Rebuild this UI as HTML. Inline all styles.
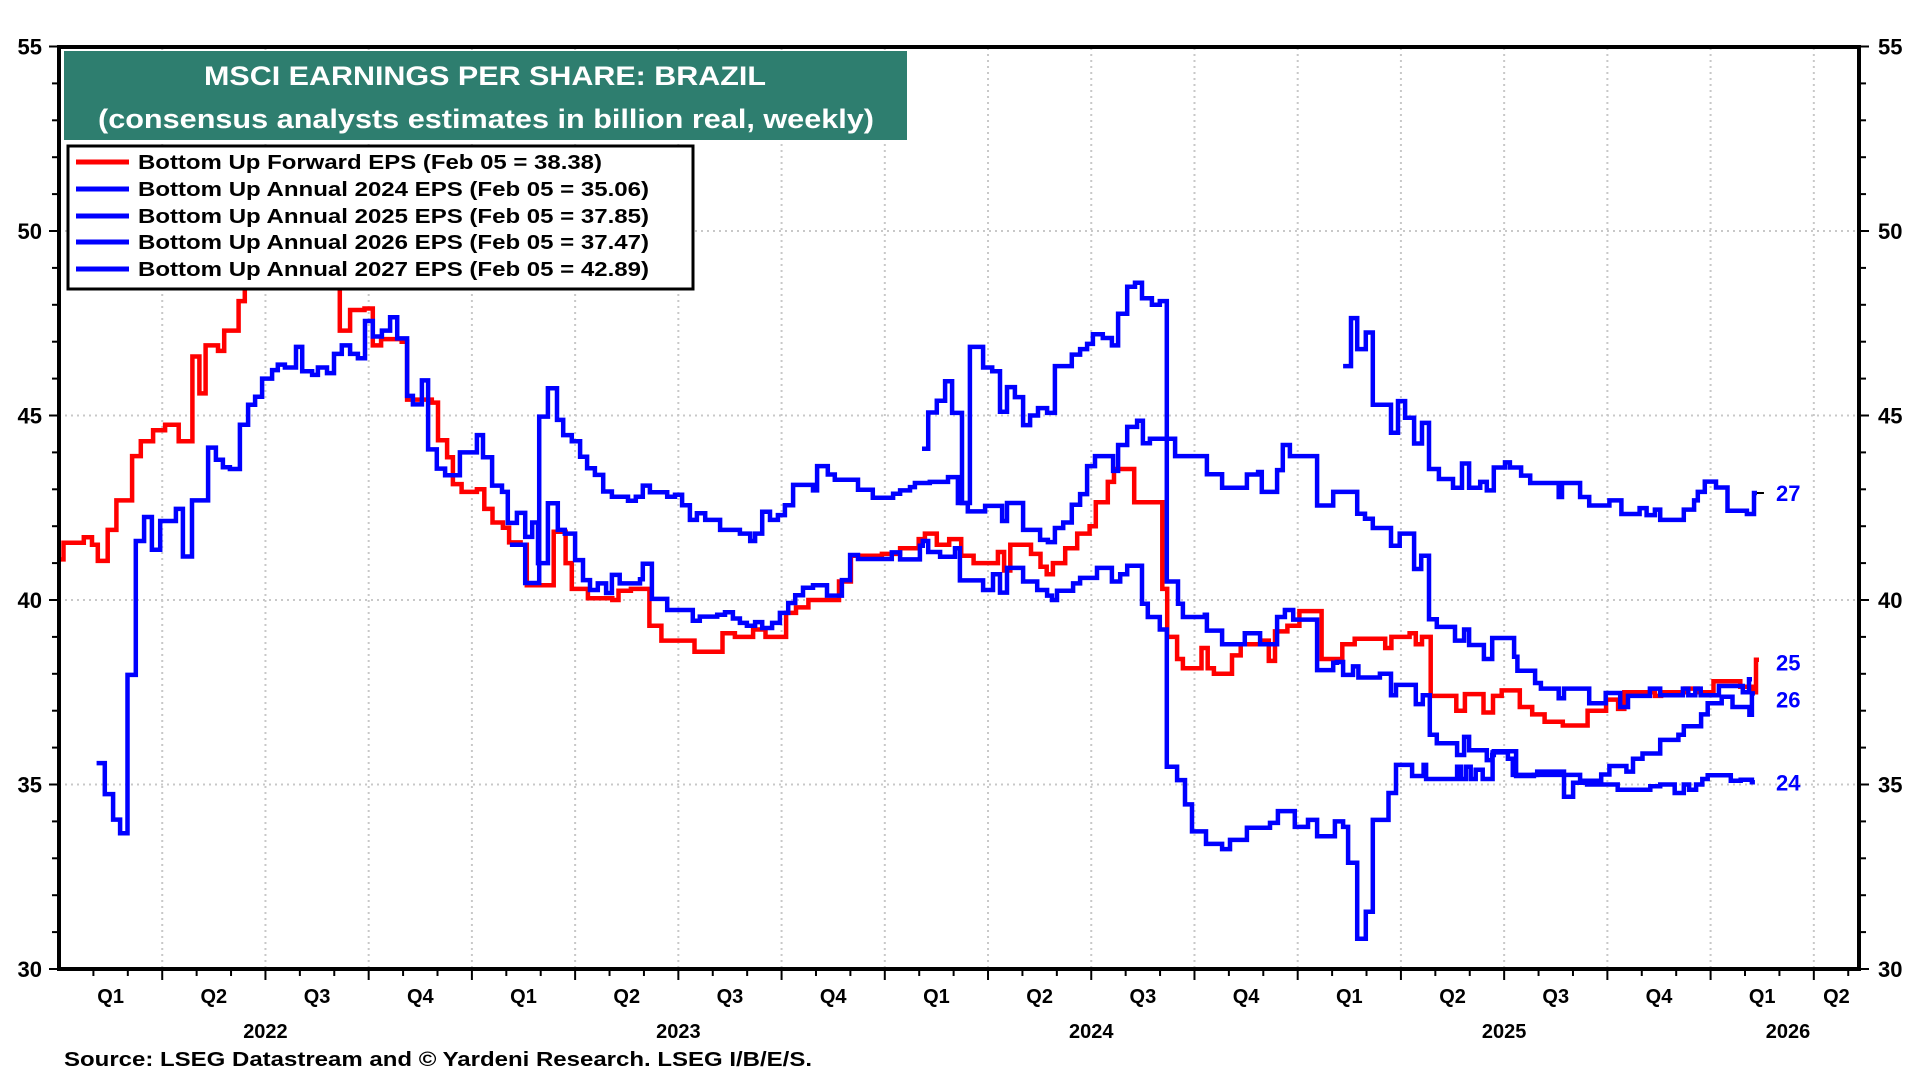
<!DOCTYPE html>
<html><head><meta charset="utf-8"><title>MSCI EPS Brazil</title>
<style>
html,body{margin:0;padding:0;background:#fff;}
svg{display:block;font-family:"Liberation Sans",Arial,sans-serif;}
</style></head>
<body>
<svg id="chart" width="1920" height="1080" viewBox="0 0 1920 1080" xmlns="http://www.w3.org/2000/svg">
<defs><clipPath id="plotclip"><rect x="59" y="46" width="1800" height="923"/></clipPath></defs>
<g id="grid"></g>
<g id="series" clip-path="url(#plotclip)"></g>
<g id="axes"></g>
<g>
  <rect x="64" y="51" width="843" height="89" fill="#2E7E6F"/>
  <text x="485" y="85" text-anchor="middle" fill="#fff" font-weight="bold" font-size="27" textLength="562" lengthAdjust="spacingAndGlyphs">MSCI EARNINGS PER SHARE: BRAZIL</text>
  <text x="486" y="128" text-anchor="middle" fill="#fff" font-weight="bold" font-size="27" textLength="776" lengthAdjust="spacingAndGlyphs">(consensus analysts estimates in billion real, weekly)</text>
</g>
<g>
  <rect x="68" y="146" width="625" height="143" fill="#fff" stroke="#000" stroke-width="3"/>
  <g><line x1="76" x2="129" y1="162" y2="162" stroke="#ff0000" stroke-width="5"/><text x="138" y="169" font-weight="bold" font-size="20" textLength="464" lengthAdjust="spacingAndGlyphs">Bottom Up Forward EPS (Feb 05 = 38.38)</text></g>
  <g><line x1="76" x2="129" y1="189" y2="189" stroke="#0000ff" stroke-width="5"/><text x="138" y="196" font-weight="bold" font-size="20" textLength="511" lengthAdjust="spacingAndGlyphs">Bottom Up Annual 2024 EPS (Feb 05 = 35.06)</text></g>
  <g><line x1="76" x2="129" y1="216" y2="216" stroke="#0000ff" stroke-width="5"/><text x="138" y="223" font-weight="bold" font-size="20" textLength="511" lengthAdjust="spacingAndGlyphs">Bottom Up Annual 2025 EPS (Feb 05 = 37.85)</text></g>
  <g><line x1="76" x2="129" y1="242" y2="242" stroke="#0000ff" stroke-width="5"/><text x="138" y="249" font-weight="bold" font-size="20" textLength="511" lengthAdjust="spacingAndGlyphs">Bottom Up Annual 2026 EPS (Feb 05 = 37.47)</text></g>
  <g><line x1="76" x2="129" y1="269" y2="269" stroke="#0000ff" stroke-width="5"/><text x="138" y="276" font-weight="bold" font-size="20" textLength="511" lengthAdjust="spacingAndGlyphs">Bottom Up Annual 2027 EPS (Feb 05 = 42.89)</text></g>
</g>
<g id="endlabels"></g>
<text x="64" y="1066" font-weight="bold" font-size="20" textLength="748" lengthAdjust="spacingAndGlyphs">Source: LSEG Datastream and © Yardeni Research. LSEG I/B/E/S.</text>
</svg>
<script>
const NS = "http://www.w3.org/2000/svg";
const yTicks = [30, 35, 40, 45, 50, 55];
const gridValues = [35, 40, 45, 50];
const quarterLabels = ["Q1","Q2","Q3","Q4","Q1","Q2","Q3","Q4","Q1","Q2","Q3","Q4","Q1","Q2","Q3","Q4","Q1","Q2"];
const yearLabels = ["2022","2023","2024","2025","2026"];

const redDates = [2022.000,2022.011,2022.060,2022.080,2022.094,2022.118,2022.139,2022.177,2022.198,2022.228,2022.257,2022.290,2022.323,2022.340,2022.355,2022.385,2022.400,2022.435,2022.450,2022.465,2022.550,2022.640,2022.680,2022.705,2022.740,2022.760,2022.780,2022.830,2022.843,2022.903,2022.918,2022.940,2022.954,2022.975,2023.012,2023.030,2023.050,2023.075,2023.090,2023.118,2023.133,2023.198,2023.227,2023.242,2023.281,2023.340,2023.355,2023.385,2023.430,2023.459,2023.539,2023.607,2023.637,2023.681,2023.711,2023.761,2023.785,2023.815,2023.889,2023.918,2023.993,2024.037,2024.082,2024.097,2024.126,2024.156,2024.185,2024.215,2024.274,2024.289,2024.304,2024.354,2024.377,2024.392,2024.407,2024.437,2024.466,2024.496,2024.511,2024.540,2024.555,2024.604,2024.672,2024.684,2024.708,2024.722,2024.767,2024.782,2024.797,2024.841,2024.862,2024.916,2024.930,2024.945,2024.975,2025.004,2025.058,2025.108,2025.138,2025.212,2025.227,2025.271,2025.286,2025.301,2025.322,2025.384,2025.405,2025.450,2025.473,2025.494,2025.538,2025.568,2025.598,2025.642,2025.702,2025.747,2025.776,2025.791,2025.865,2025.880,2025.939,2025.969,2026.007,2026.072,2026.102,2026.110];
const redVals = [41.1,41.55,41.7,41.5,41.06,41.9,42.7,43.9,44.3,44.6,44.75,44.3,46.6,45.6,46.9,46.75,47.3,48.1,48.5,49.5,50.0,49.5,47.3,47.86,47.9,46.9,47.07,47.0,45.43,45.35,44.33,43.87,43.14,42.93,43.0,42.47,42.1,41.96,41.56,41.5,40.4,41.85,41.0,40.3,40.05,40.0,40.25,40.3,39.3,38.9,38.6,39.1,39.0,39.2,39.0,39.65,39.8,40.0,40.5,41.2,41.25,41.4,41.65,41.8,41.5,41.65,41.2,41.0,41.3,40.8,41.5,41.25,40.9,40.7,41.0,41.4,41.8,42.0,42.65,43.2,43.55,42.65,40.3,39.0,38.4,38.15,38.7,38.15,38.0,38.5,38.8,38.9,38.35,39.15,39.3,39.7,38.4,38.8,38.95,38.7,39.0,39.1,38.8,39.0,37.4,37.0,37.45,36.95,37.4,37.55,37.1,36.9,36.7,36.6,37.0,37.3,37.05,37.5,37.4,37.5,37.6,37.5,37.8,37.65,37.5,38.38];

const eps24Dates = [2022.091,2022.111,2022.131,2022.148,2022.166,2022.186,2022.206,2022.225,2022.245,2022.283,2022.300,2022.322,2022.361,2022.380,2022.397,2022.414,2022.438,2022.458,2022.475,2022.492,2022.516,2022.530,2022.547,2022.574,2022.589,2022.613,2022.627,2022.649,2022.666,2022.685,2022.705,2022.724,2022.741,2022.760,2022.782,2022.802,2022.819,2022.843,2022.857,2022.879,2022.894,2022.915,2022.935,2022.971,2023.012,2023.027,2023.049,2023.073,2023.087,2023.109,2023.129,2023.146,2023.160,2023.184,2023.208,2023.225,2023.250,2023.269,2023.286,2023.305,2023.325,2023.339,2023.358,2023.407,2023.414,2023.436,2023.473,2023.535,2023.552,2023.594,2023.613,2023.632,2023.649,2023.666,2023.686,2023.703,2023.727,2023.746,2023.766,2023.783,2023.802,2023.826,2023.860,2023.896,2023.916,2023.935,2024.017,2024.037,2024.085,2024.092,2024.105,2024.134,2024.170,2024.182,2024.238,2024.262,2024.279,2024.296,2024.335,2024.369,2024.393,2024.405,2024.417,2024.456,2024.473,2024.514,2024.550,2024.570,2024.587,2024.623,2024.637,2024.666,2024.683,2024.708,2024.727,2024.744,2024.778,2024.817,2024.836,2024.877,2024.933,2024.952,2024.993,2025.025,2025.047,2025.090,2025.110,2025.122,2025.144,2025.165,2025.182,2025.220,2025.238,2025.277,2025.305,2025.311,2025.386,2025.395,2025.407,2025.419,2025.431,2025.448,2025.472,2025.509,2025.521,2025.580,2025.645,2025.667,2025.701,2025.775,2025.854,2025.878,2025.913,2025.935,2025.948,2025.965,2025.980,2025.993,2026.049,2026.073,2026.100];
const eps24Vals = [35.58,34.74,34.05,33.68,37.97,41.6,42.25,41.36,42.14,42.47,41.18,42.7,44.13,43.8,43.6,43.55,44.75,45.29,45.51,46.0,46.23,46.38,46.3,46.86,46.2,46.1,46.3,46.15,46.67,46.9,46.67,46.55,47.56,47.14,47.3,47.66,47.09,45.53,45.3,45.95,44.08,43.56,43.38,44.0,44.47,43.87,43.1,42.93,42.09,42.36,41.71,42.1,41.0,42.62,41.9,41.8,41.08,40.54,40.27,40.45,40.19,40.68,40.45,40.56,40.98,40.03,39.73,39.44,39.55,39.6,39.67,39.5,39.38,39.3,39.4,39.24,39.38,39.65,39.92,40.13,40.33,40.4,40.12,40.54,41.22,41.11,41.29,41.1,41.47,41.6,41.3,41.17,41.4,40.53,40.27,40.7,40.2,40.87,40.5,40.27,40.12,40.0,40.25,40.45,40.6,40.87,40.5,40.7,40.93,39.9,39.54,39.2,35.48,35.12,34.46,33.73,33.39,33.25,33.5,33.83,33.96,34.28,33.85,34.04,33.6,34.0,33.85,32.88,30.82,31.55,34.04,34.77,35.53,35.23,35.53,35.15,35.48,35.15,35.48,35.15,35.4,35.15,35.87,35.7,35.26,35.35,34.67,35.05,35.0,34.86,34.95,35.0,34.77,35.0,34.86,35.0,35.15,35.25,35.1,35.13,35.06];

const eps25Dates = [2023.092,2023.129,2023.163,2023.184,2023.206,2023.221,2023.242,2023.262,2023.279,2023.298,2023.318,2023.339,2023.378,2023.397,2023.414,2023.431,2023.473,2023.492,2023.509,2023.528,2023.545,2023.565,2023.601,2023.649,2023.674,2023.686,2023.703,2023.722,2023.741,2023.758,2023.778,2023.826,2023.836,2023.862,2023.879,2023.935,2023.971,2024.020,2024.037,2024.061,2024.073,2024.109,2024.153,2024.177,2024.201,2024.243,2024.284,2024.296,2024.335,2024.376,2024.395,2024.412,2024.432,2024.453,2024.473,2024.490,2024.509,2024.553,2024.565,2024.587,2024.611,2024.625,2024.642,2024.683,2024.703,2024.780,2024.817,2024.877,2024.904,2024.913,2024.950,2024.964,2024.981,2025.047,2025.086,2025.144,2025.163,2025.182,2025.226,2025.247,2025.282,2025.299,2025.318,2025.337,2025.381,2025.403,2025.415,2025.451,2025.471,2025.524,2025.532,2025.575,2025.589,2025.632,2025.645,2025.706,2025.746,2025.781,2025.800,2025.853,2025.878,2025.933,2025.946,2025.963,2025.976,2026.020,2026.078,2026.093];
const eps25Vals = [41.5,40.46,44.97,45.74,44.88,44.47,44.3,43.88,43.57,43.39,42.94,42.8,42.69,42.8,43.1,42.92,42.8,42.85,42.57,42.17,42.35,42.17,41.9,41.8,41.6,41.8,42.39,42.17,42.3,42.57,43.12,42.97,43.63,43.4,43.26,42.99,42.77,42.88,42.97,43.06,43.17,43.2,43.33,42.63,42.4,42.55,42.14,42.63,41.9,41.63,41.57,41.95,42.1,42.58,42.87,43.63,43.9,43.5,44.2,44.69,44.86,44.25,44.37,44.37,43.9,43.41,43.04,43.4,43.47,42.93,43.52,44.2,43.9,42.56,42.93,42.34,42.2,41.95,41.47,41.8,40.84,41.2,39.48,39.27,38.9,39.2,38.78,38.4,38.97,38.46,38.08,37.75,37.6,37.34,37.6,37.2,37.48,37.1,37.4,37.6,37.42,37.6,37.42,37.6,37.42,37.67,37.5,37.85];

const eps26Dates = [2024.090,2024.105,2024.126,2024.146,2024.163,2024.187,2024.206,2024.238,2024.260,2024.279,2024.296,2024.315,2024.335,2024.352,2024.371,2024.393,2024.412,2024.453,2024.473,2024.490,2024.504,2024.528,2024.550,2024.565,2024.587,2024.606,2024.623,2024.647,2024.666,2024.683,2024.710,2024.722,2024.775,2024.780,2024.817,2024.872,2024.909,2024.950,2024.969,2024.989,2025.047,2025.086,2025.095,2025.110,2025.134,2025.147,2025.199,2025.226,2025.238,2025.286,2025.303,2025.320,2025.337,2025.386,2025.403,2025.415,2025.458,2025.471,2025.475,2025.529,2025.572,2025.684,2025.735,2025.755,2025.796,2025.812,2025.835,2025.878,2025.922,2025.935,2025.977,2025.993,2026.027,2026.053,2026.094,2026.100];
const eps26Vals = [44.1,45.08,45.4,45.93,45.07,42.63,46.86,46.3,46.2,45.1,45.77,45.5,44.74,45.0,45.2,45.07,46.34,46.65,46.8,46.94,47.2,47.1,46.9,47.76,48.49,48.6,48.18,48.0,48.1,40.5,39.9,39.54,39.6,39.17,38.8,39.1,38.8,39.54,39.73,39.47,38.1,38.3,38.32,37.97,38.2,37.9,38.0,37.42,37.7,37.18,37.42,36.35,36.12,35.8,36.29,35.93,35.66,35.8,35.9,35.23,35.26,35.1,35.27,35.5,35.35,35.7,35.84,36.21,36.35,36.58,36.9,37.2,37.38,37.1,36.89,37.47];

const eps27Dates = [2025.110,2025.129,2025.144,2025.165,2025.182,2025.226,2025.243,2025.260,2025.282,2025.301,2025.318,2025.342,2025.376,2025.398,2025.415,2025.442,2025.458,2025.475,2025.502,2025.514,2025.541,2025.563,2025.632,2025.640,2025.684,2025.706,2025.755,2025.784,2025.828,2025.845,2025.865,2025.878,2025.935,2025.960,2025.969,2025.986,2026.013,2026.041,2026.088,2026.105];
const eps27Vals = [46.34,47.64,46.8,47.25,45.29,44.53,45.39,44.94,44.24,44.8,43.55,43.28,43.04,43.7,43.04,43.2,42.97,43.59,43.73,43.59,43.37,43.17,42.79,43.17,42.79,42.56,42.7,42.33,42.49,42.3,42.45,42.17,42.45,42.7,42.93,43.21,43.05,42.42,42.33,42.9];

const endLabelText = ["27","25","26","24"];
const endLabelVals = [42.9,38.3,37.3,35.06];

function xS(d){ return 59 + (d - 2022) * 412.9; }
function yS(v){ return 969 - (v - 30) * 36.9; }
function mk(tag, attrs, parent){ const e = document.createElementNS(NS, tag); for (const k in attrs) e.setAttribute(k, attrs[k]); parent.appendChild(e); return e; }

const grid = document.getElementById('grid');
const axes = document.getElementById('axes');
const series = document.getElementById('series');
const endG = document.getElementById('endlabels');

gridValues.forEach(v => {
  const l = mk('line', {x1:59, x2:1859, y1:yS(v), y2:yS(v), stroke:'#c8c8c8', 'stroke-width':2, 'stroke-dasharray':'2 4'}, grid);
  
  
});
for (let q = 1; q < 18; q++) {
  const x = xS(2022 + q * 0.25);
  const l = mk('line', {x1:x, x2:x, y1:48, y2:969, stroke:'#c8c8c8', 'stroke-width':2, 'stroke-dasharray':'2 4'}, grid);
  
  
}

function stepPath(ds, vs){
  let p = 'M' + xS(ds[0]).toFixed(1) + ' ' + yS(vs[0]).toFixed(1);
  for (let i = 1; i < ds.length; i++) {
    p += ' H' + xS(ds[i]).toFixed(1) + ' V' + yS(vs[i]).toFixed(1);
  }
  p += ' H' + (xS(ds[ds.length-1]) + 3).toFixed(1);
  return p;
}
const sr = mk('path', {d: stepPath(redDates, redVals), fill:'none', stroke:'#ff0000', 'stroke-width':4.5, 'stroke-linejoin':'miter'}, series);


const s24 = mk('path', {d: stepPath(eps24Dates, eps24Vals), fill:'none', stroke:'#0000ff', 'stroke-width':4.5}, series);


const s25 = mk('path', {d: stepPath(eps25Dates, eps25Vals), fill:'none', stroke:'#0000ff', 'stroke-width':4.5}, series);


const s26 = mk('path', {d: stepPath(eps26Dates, eps26Vals), fill:'none', stroke:'#0000ff', 'stroke-width':4.5}, series);


const s27 = mk('path', {d: stepPath(eps27Dates, eps27Vals), fill:'none', stroke:'#0000ff', 'stroke-width':4.5}, series);



// small black end tick
const et = mk('line', {x1:xS(eps27Dates[eps27Dates.length-1])+3, x2:xS(eps27Dates[eps27Dates.length-1])+10, y1:yS(42.9), y2:yS(42.9), stroke:'#000', 'stroke-width':2}, axes);



// frame
const fr = mk('rect', {x:59, y:47, width:1800, height:922, fill:'none', stroke:'#000', 'stroke-width':4}, axes);



// y ticks minor
for (let v = 30; v <= 55; v++) {
  const major = v % 5 === 0;
  const len = major ? 8 : 5;
  const a = mk('line', {x1:57-len, x2:57, y1:yS(v), y2:yS(v), stroke:'#000', 'stroke-width':2}, axes);
  
  
  const b = mk('line', {x1:1861, x2:1861+len, y1:yS(v), y2:yS(v), stroke:'#000', 'stroke-width':2}, axes);
  
  
}
yTicks.forEach(v => {
  const t = mk('text', {x:42, y:yS(v)+8, 'text-anchor':'end', 'font-size':22, 'font-weight':'bold'}, axes);
  t.textContent = v;
  
  
  const r = mk('text', {x:1878, y:yS(v)+8, 'text-anchor':'start', 'font-size':22, 'font-weight':'bold'}, axes);
  r.textContent = v;
  
  
});

// x ticks (months)
for (let m = 1; m < 53; m++) {
  const x = xS(2022 + m / 12);
  if (x > 1858) break;
  const long = m % 3 === 0;
  const tk = mk('line', {x1:x, x2:x, y1:971, y2:971 + (long ? 9 : 5), stroke:'#000', 'stroke-width':2}, axes);
  
  
}
quarterLabels.forEach((q, i) => {
  const c = xS(2022 + i * 0.25 + 0.125);
  const cx = i === 17 ? (xS(2026.25) + 1859) / 2 : c;
  const t = mk('text', {x:cx, y:1003, 'text-anchor':'middle', 'font-size':20, 'font-weight':'bold'}, axes);
  t.textContent = q;
  
  
});
yearLabels.forEach((y, i) => {
  const cx = i === 4 ? 1788 : xS(2022 + i + 0.5);
  const t = mk('text', {x:cx, y:1038, 'text-anchor':'middle', 'font-size':20, 'font-weight':'bold'}, axes);
  t.textContent = y;
  
  
});

endLabelText.forEach((s, i) => {
  const t = mk('text', {x:1776, y:yS(endLabelVals[i]) + 8, 'font-size':22, 'font-weight':'bold', fill:'#0000ff'}, endG);
  t.textContent = s;
  
  
});
</script>
</body></html>
